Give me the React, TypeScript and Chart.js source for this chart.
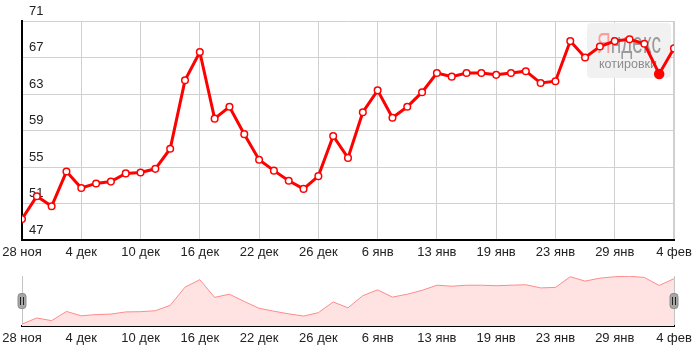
import React, { useEffect, useRef } from 'react';
import { Chart, registerables } from 'chart.js';

Chart.register(...registerables);

const TICK_LABELS = ['28 ноя', '4 дек', '10 дек', '16 дек', '22 дек', '26 дек', '6 янв', '13 янв', '19 янв', '23 янв', '29 янв', '4 фев'];
const POINTS_PER_TICK = 4;
const VALUES = [
  49.3, 51.8, 50.7, 54.5, 52.7, 53.2, 53.4, 54.3, 54.4, 54.8,
  57.0, 64.5, 67.6, 60.3, 61.6, 58.6, 55.8, 54.6, 53.5, 52.6,
  54.0, 58.4, 56.0, 61.0, 63.4, 60.4, 61.6, 63.2, 65.3, 64.9,
  65.3, 65.3, 65.1, 65.3, 65.5, 64.2, 64.4, 68.8, 67.0, 68.2,
  68.8, 69.0, 68.5, 65.2, 68.0,
];
const HIGHLIGHT_INDEX = 43;
const Y_MIN = 47;
const Y_MAX = 71;
const Y_STEP = 4;
const NAV_MIN = 48.5;
const NAV_MAX = 69.1;

const FONT = 'Arial, "Liberation Sans", sans-serif';
const LAST_X = VALUES.length - 1;

const points = VALUES.map((v, i) => ({ x: i, y: v }));
const tickCallback = (value: number) => {
  const i = value / POINTS_PER_TICK;
  return Number.isInteger(i) ? TICK_LABELS[i] ?? '' : '';
};

const fixXAxis = (h: number) => (s: any) => {
  s.height = h;
  s.paddingLeft = 0;
  s.paddingRight = 0;
};

const watermarkPlugin = {
  id: 'watermark',
  beforeDatasetsDraw(chart: any) {
    const { ctx, chartArea } = chart;
    const x0 = chartArea.right - 87;
    const y0 = chartArea.top + 2;
    const w = 84;
    const h = 55;
    ctx.save();
    ctx.fillStyle = 'rgba(240,240,240,0.95)';
    ctx.beginPath();
    ctx.roundRect(x0, y0, w, h, 4);
    ctx.fill();
    ctx.font = `29px ${FONT}`;
    ctx.textBaseline = 'alphabetic';
    ctx.textAlign = 'left';
    const wYa = ctx.measureText('Я').width;
    const wAll = ctx.measureText('Яндекс').width;
    const sx = 64 / wAll;
    ctx.translate(x0 + 10, y0 + 30);
    ctx.scale(sx, 1);
    ctx.fillStyle = '#ff9c9c';
    ctx.fillText('Я', 0, 0);
    ctx.fillStyle = '#9a9a9a';
    ctx.fillText('ндекс', wYa, 0);
    ctx.restore();
    ctx.save();
    ctx.font = `12.5px ${FONT}`;
    ctx.fillStyle = '#8c8c8c';
    ctx.textAlign = 'center';
    ctx.textBaseline = 'alphabetic';
    ctx.fillText('котировки', x0 + 41, y0 + 45);
    ctx.restore();
  },
};

const handlesPlugin = {
  id: 'handles',
  afterDraw(chart: any) {
    const { ctx, chartArea } = chart;
    const cy = (chartArea.top + chartArea.bottom) / 2;
    [chartArea.left, chartArea.right].forEach((cx: number) => {
      ctx.save();
      ctx.fillStyle = '#a6a6a6';
      ctx.strokeStyle = '#8e8e8e';
      ctx.lineWidth = 1;
      ctx.beginPath();
      ctx.roundRect(cx - 4, cy - 7.5, 8, 15, 3);
      ctx.fill();
      ctx.stroke();
      ctx.strokeStyle = '#222';
      ctx.beginPath();
      ctx.moveTo(cx - 1.5, cy - 4);
      ctx.lineTo(cx - 1.5, cy + 4);
      ctx.moveTo(cx + 1.5, cy - 4);
      ctx.lineTo(cx + 1.5, cy + 4);
      ctx.stroke();
      ctx.restore();
    });
  },
};

export default function App() {
  const mainRef = useRef<HTMLCanvasElement>(null);
  const navRef = useRef<HTMLCanvasElement>(null);

  useEffect(() => {
    const main = new Chart(mainRef.current!, {
      type: 'line',
      data: {
        datasets: [
          {
            data: points,
            borderColor: '#ff0000',
            borderWidth: 3,
            tension: 0,
            pointRadius: (c: any) => (c.dataIndex === HIGHLIGHT_INDEX ? 4.5 : 3.3),
            pointBackgroundColor: (c: any) => (c.dataIndex === HIGHLIGHT_INDEX ? '#ff0000' : '#ffffff'),
            pointBorderColor: '#ff0000',
            pointBorderWidth: 1.5,
          },
        ],
      },
      options: {
        responsive: false,
        animation: false,
        devicePixelRatio: 1,
        events: [],
        layout: { padding: { left: 22, right: 21, top: 21, bottom: 0 } },
        plugins: { legend: { display: false }, tooltip: { enabled: false } },
        scales: {
          x: {
            type: 'linear',
            min: 0,
            max: LAST_X,
            afterFit: fixXAxis(25),
            ticks: {
              stepSize: POINTS_PER_TICK,
              autoSkip: false,
              maxRotation: 0,
              padding: 5,
              color: '#222',
              font: { family: FONT, size: 13 },
              callback: tickCallback as any,
            },
            grid: {
              color: '#d0d0d0',
              lineWidth: (c: any) => (c.tick && c.tick.value === LAST_X ? 2 : 1),
              drawTicks: false,
            },
            border: { color: '#000', width: 2 },
          },
          y: {
            min: Y_MIN,
            max: Y_MAX,
            afterFit: (s: any) => {
              s.width = 0;
              s.paddingTop = 0;
              s.paddingBottom = 0;
            },
            ticks: {
              stepSize: Y_STEP,
              mirror: true,
              padding: 7,
              labelOffset: -10,
              color: '#222',
              font: { family: FONT, size: 13 },
            },
            grid: { color: '#d0d0d0', drawTicks: false },
            border: { color: '#000', width: 2 },
          },
        },
      },
      plugins: [watermarkPlugin],
    });

    const nav = new Chart(navRef.current!, {
      type: 'line',
      data: {
        datasets: [
          {
            data: points,
            borderColor: '#ff8a8a',
            borderWidth: 1,
            backgroundColor: '#ffe3e3',
            fill: 'start',
            tension: 0,
            pointRadius: 0,
          },
        ],
      },
      options: {
        responsive: false,
        animation: false,
        devicePixelRatio: 1,
        events: [],
        layout: { padding: { left: 22, right: 21, top: 11, bottom: 0 } },
        plugins: { legend: { display: false }, tooltip: { enabled: false } },
        scales: {
          x: {
            type: 'linear',
            min: 0,
            max: LAST_X,
            afterFit: fixXAxis(20),
            ticks: {
              stepSize: POINTS_PER_TICK,
              autoSkip: false,
              maxRotation: 0,
              padding: 5,
              color: '#222',
              font: { family: FONT, size: 13 },
              callback: tickCallback as any,
            },
            grid: {
              color: (c: any) =>
                c.tick && (c.tick.value === 0 || c.tick.value === LAST_X) ? '#c4c4c4' : 'rgba(0,0,0,0)',
              drawTicks: false,
            },
            border: { color: '#000', width: 2 },
          },
          y: { display: false, min: NAV_MIN, max: NAV_MAX },
        },
      },
      plugins: [handlesPlugin],
    });

    return () => {
      main.destroy();
      nav.destroy();
    };
  }, []);

  return (
    <div style={{ position: 'absolute', left: 0, top: 0, width: 695, height: 346, background: '#fff' }}>
      <canvas ref={mainRef} width={695} height={265} style={{ position: 'absolute', left: 0, top: 0, display: 'block' }} />
      <canvas ref={navRef} width={695} height={81} style={{ position: 'absolute', left: 0, top: 265, display: 'block' }} />
    </div>
  );
}
